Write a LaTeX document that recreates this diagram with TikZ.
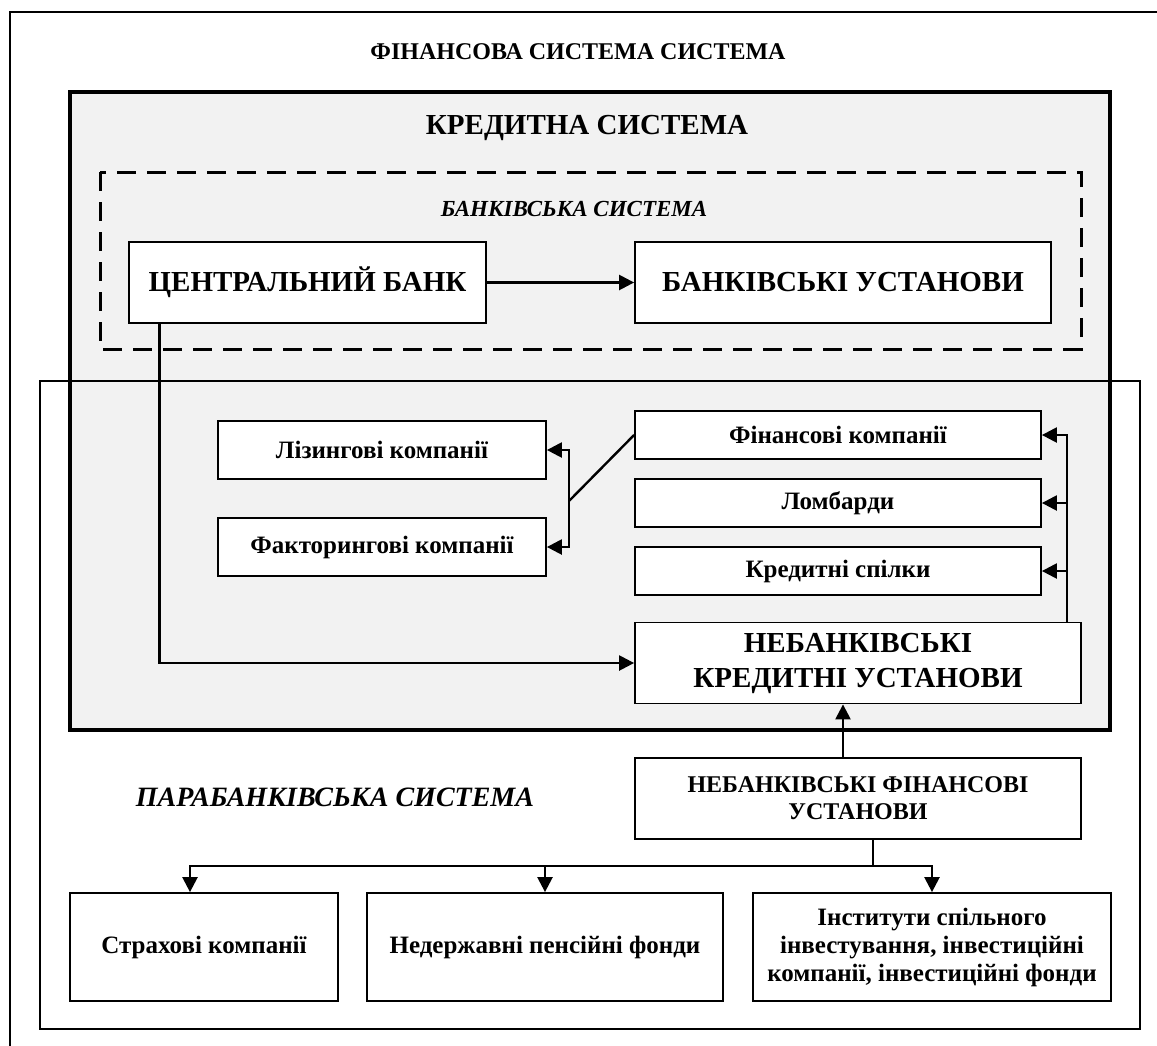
\documentclass[tikz,border=0pt]{standalone}
\usepackage{fontspec}
\setmainfont{Liberation Serif}
\usepackage{tikz}
\usetikzlibrary{arrows.meta}
\usetikzlibrary{positioning}
\definecolor{creditgray}{HTML}{F2F2F2}
\newcommand{\bigfont}{\fontsize{29}{35}\selectfont\bfseries}
\newcommand{\midfont}{\fontsize{25}{28}\selectfont\bfseries}
\tikzset{
  instbox/.style={draw, fill=white, line width=1.8pt, inner sep=0pt, align=center, font=\midfont},
  bigbox/.style={instbox, font=\bigfont},
  link/.style={line width=2.4pt, -{Triangle[length=15pt,width=15pt]}}
}

\begin{document}
\begin{tikzpicture}[x=1pt, y=-1pt]
  \useasboundingbox (0,0) rectangle (1157,1045);
  \clip (0,0) rectangle (1157,1045);

  % Frames
  \draw[line width=2.7pt] (10,1060) -- (10,12) -- (1170,12);
  \draw[line width=4.5pt, fill=creditgray] (70,92) rectangle (1110,730);
  \draw[line width=2pt] (40,381) rectangle (1140,1029);
  \draw[line width=3pt, dash pattern=on 19pt off 11pt] (100,172) rectangle (1081,349);

  \node[font=\fontsize{24}{28}\selectfont\bfseries] (finsys) at (578,52) {ФІНАНСОВА СИСТЕМА СИСТЕМА};
  \node[font=\bigfont] (credsys) at (587,128) {КРЕДИТНА СИСТЕМА};
  \node[font=\fontsize{23}{28}\selectfont\bfseries\itshape] (banksys) at (574,209) {БАНКІВСЬКА СИСТЕМА};
  \node[font=\fontsize{28}{32}\selectfont\bfseries\itshape] (parasys) at (335,797) {ПАРАБАНКІВСЬКА СИСТЕМА};

  % Banking system
  \node[bigbox, minimum width=357pt, minimum height=81pt] (cb) at (307.5,282.5) {ЦЕНТРАЛЬНИЙ БАНК};
  \node[bigbox, minimum width=416pt, minimum height=81pt] (bu) at (843,282.5) {БАНКІВСЬКІ УСТАНОВИ};

  % Non-bank credit institutions
  \node[instbox, minimum width=328pt, minimum height=58pt] (liz) at (382,450) {Лізингові компанії};
  \node[instbox, minimum width=328pt, minimum height=58pt] (fakt) at (382,547) {Факторингові компанії};
  \foreach \name/\y/\txt in {fin/435/Фінансові компанії, lomb/503/Ломбарди, kred/571/Кредитні спілки}
    \node[instbox, minimum width=406pt, minimum height=48pt] (\name) at (838,\y) {\txt};
  \node[bigbox, minimum width=446pt, minimum height=81pt] (nku) at (858,663) {НЕБАНКІВСЬКІ\\КРЕДИТНІ УСТАНОВИ};

  % Parabanking system
  \node[instbox, font=\fontsize{24}{27}\selectfont\bfseries, minimum width=446pt, minimum height=81pt] (nfu) at (858,798.5) {НЕБАНКІВСЬКІ ФІНАНСОВІ\\УСТАНОВИ};
  \node[instbox, minimum width=268pt, minimum height=108pt] (strakh) at (204,947) {Страхові компанії};
  \node[instbox, minimum width=356pt, minimum height=108pt] (pens) at (545,947) {Недержавні пенсійні фонди};
  \node[instbox, minimum width=358pt, minimum height=108pt] (invest) at (932,947) {Інститути спільного\\інвестування, інвестиційні\\компанії, інвестиційні фонди};

  % Connectors
  \draw[link] (cb) -- (bu);
  \draw[link] ([xshift=-148pt]cb.south) |- (nku.west);
  \coordinate (fork) at (569,501);
  \draw[line width=2.4pt] (fin.west) -- (fork);
  \foreach \t in {liz,fakt}
    \draw[link] (fork) |- (\t.east);
  \foreach \t in {fin,lomb,kred}
    \draw[link] ([xshift=-15pt]nku.north east) |- (\t.east);
  \draw[link] ([xshift=-15pt]nfu.north) -- ([xshift=-15pt]nku.south);
  \coordinate (bus) at (873,866);
  \draw[line width=1.4pt] ([xshift=15pt]nfu.south) -- (bus);
  \draw[link] (bus) -| ([xshift=-14pt]strakh.north);
  \foreach \t in {pens,invest}
    \draw[link] (bus) -| (\t.north);
\end{tikzpicture}
\end{document}
